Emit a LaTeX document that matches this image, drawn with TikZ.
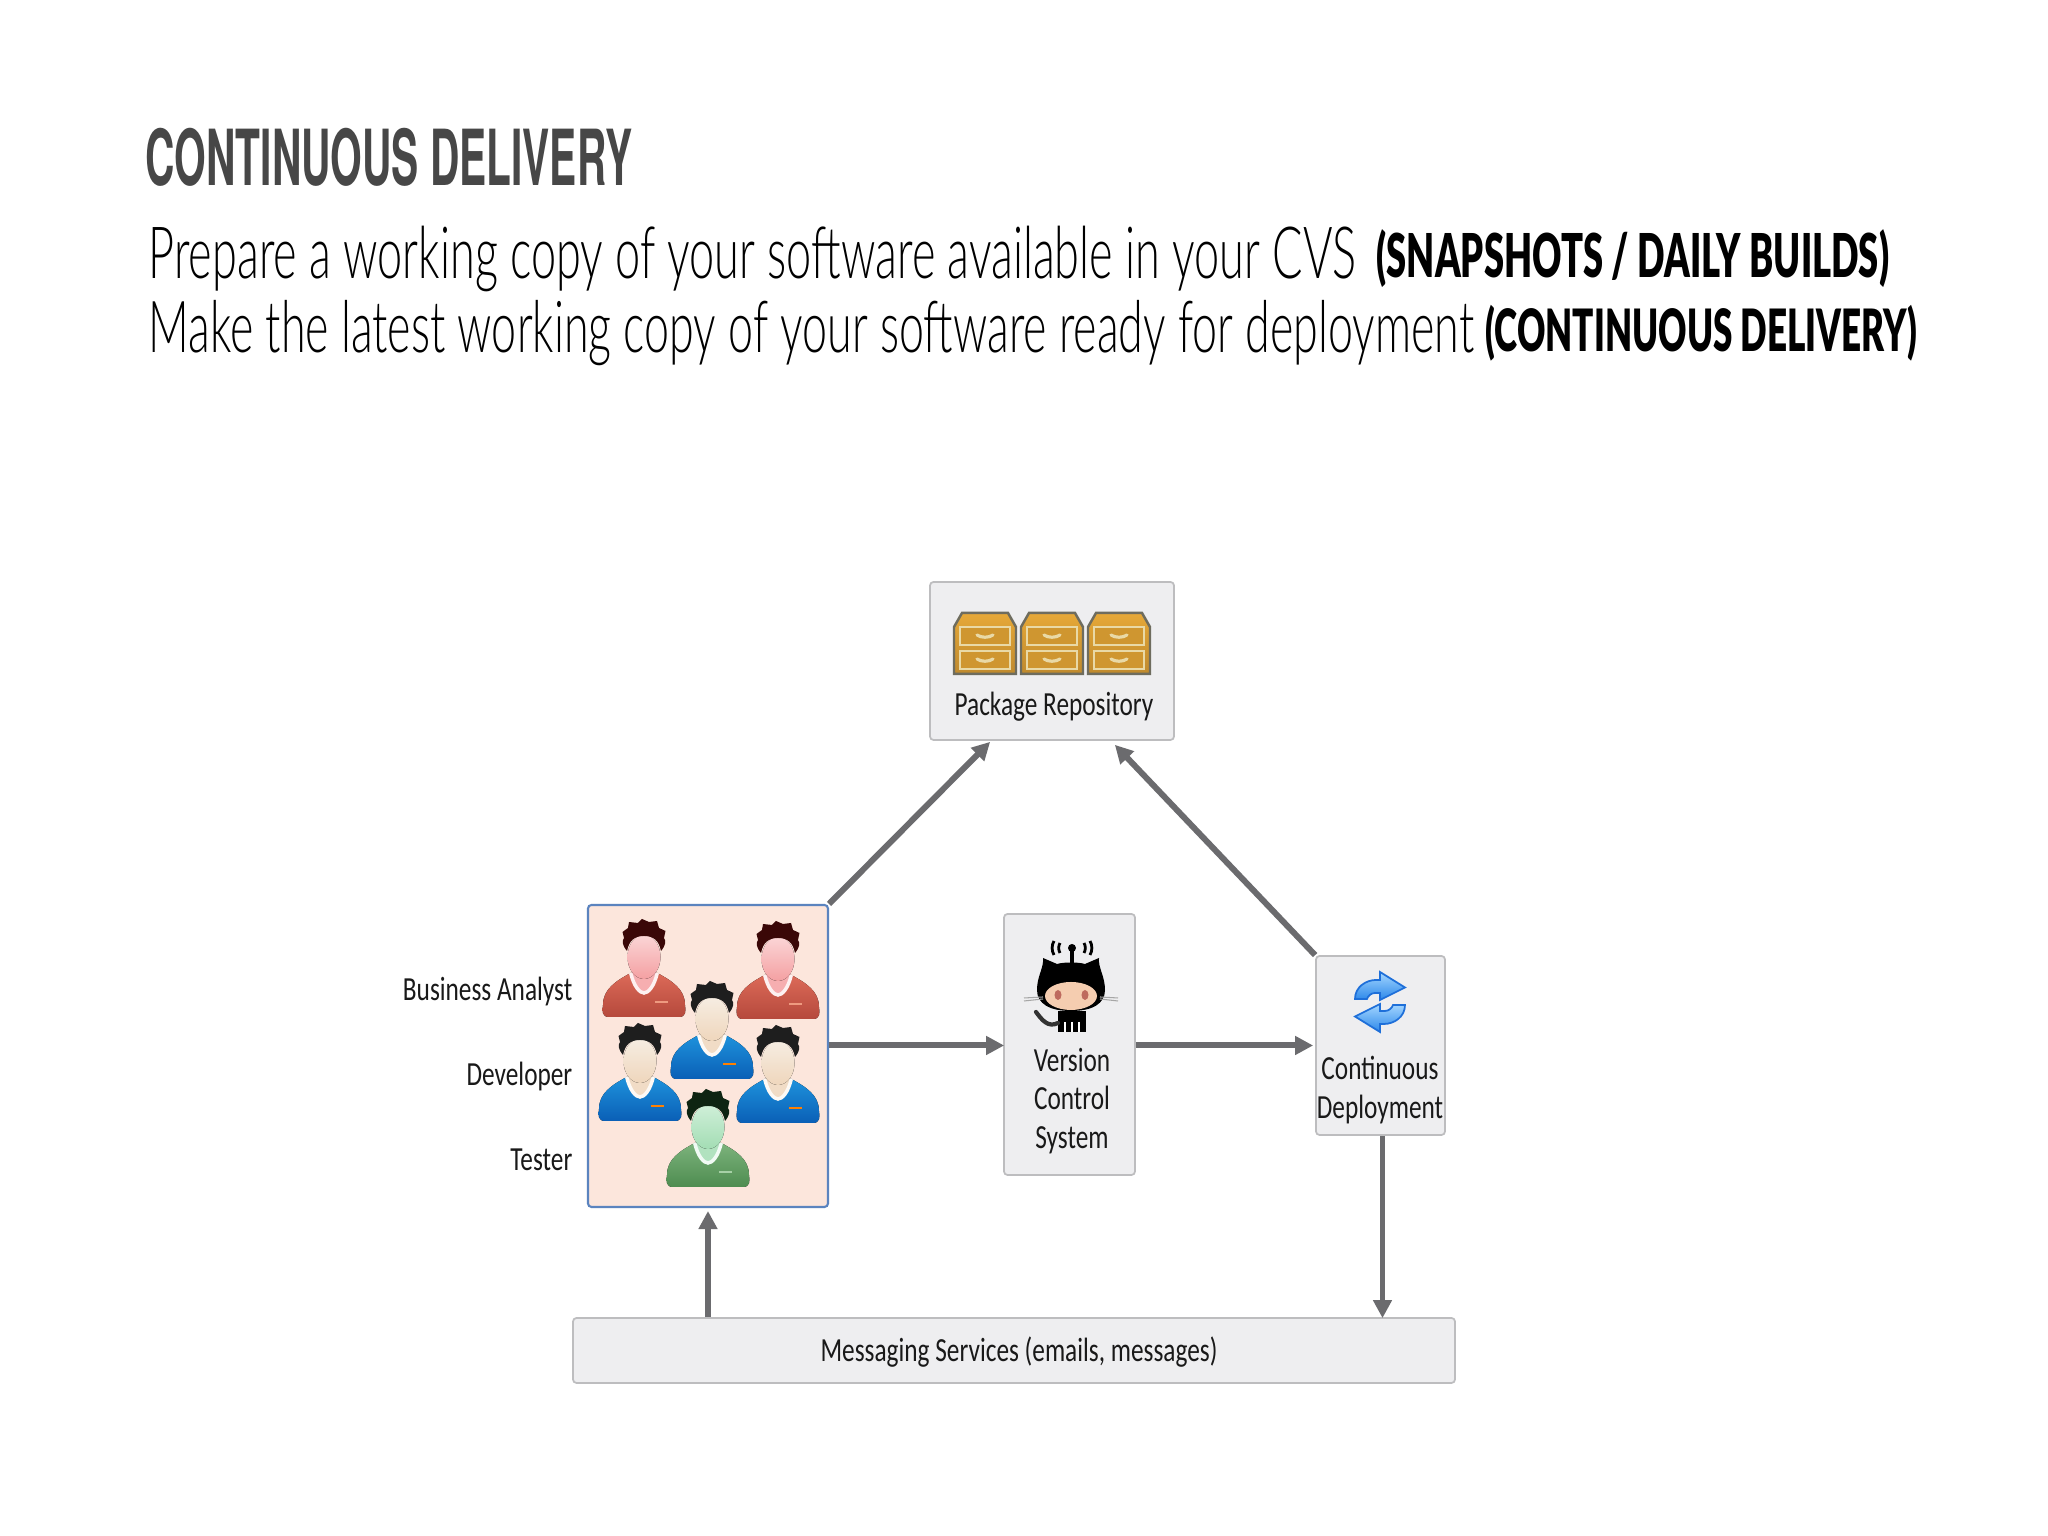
\documentclass[tikz,border=0pt]{standalone}
\usepackage{fontspec}
\usepackage{tikz}
\usetikzlibrary{calc,arrows.meta}
\newfontfamily\headfont[FakeStretch=0.526]{TeX Gyre Heros Bold}
\newfontfamily\thinfont[FakeStretch=0.625]{Lato Light}
\newfontfamily\boldfont[FakeStretch=0.6]{Lato Black}
\newfontfamily\labelfont[FakeStretch=0.75]{Carlito}
\definecolor{linkgray}{HTML}{6B6B6E}
\definecolor{boxfill}{HTML}{EEEEF0}
\definecolor{boxline}{HTML}{BDBDBF}
\definecolor{teamline}{HTML}{5B84BF}
\definecolor{teamfill}{HTML}{FCE6DC}
\definecolor{redtop}{HTML}{DC6A58}
\definecolor{redbottom}{HTML}{B5493C}
\definecolor{redface}{HTML}{F4A0A2}
\definecolor{redlight}{HTML}{FBD5D6}
\definecolor{redhair}{HTML}{3A0707}
\definecolor{redbadge}{HTML}{EE9A80}
\definecolor{bluetop}{HTML}{1E92DC}
\definecolor{bluebottom}{HTML}{0A5FB6}
\definecolor{blueface}{HTML}{EFD6BC}
\definecolor{bluelight}{HTML}{F6EDE2}
\definecolor{bluehair}{HTML}{1E1E1E}
\definecolor{greentop}{HTML}{7CB37C}
\definecolor{greenbottom}{HTML}{4E8C50}
\definecolor{greenface}{HTML}{A3DDB4}
\definecolor{greenlight}{HTML}{CFEFD8}
\definecolor{greenhair}{HTML}{0E2412}
\definecolor{greenbadge}{HTML}{A6D0A6}
\definecolor{cabtop}{HTML}{E6A838}
\definecolor{cabbottom}{HTML}{BF8A2E}
\definecolor{cabdrawer}{HTML}{CF9630}
\definecolor{cabedge}{HTML}{E9D9A6}
\definecolor{cabline}{HTML}{6E6C5E}
\definecolor{synctop}{HTML}{A4D6FF}
\definecolor{syncbottom}{HTML}{2C88EA}
\definecolor{syncline}{HTML}{1E6FD9}
\definecolor{catface}{HTML}{F5CDB0}
\definecolor{cateye}{HTML}{BE6A5E}
\tikzset{
  boxnode/.style={draw=boxline,fill=boxfill,line width=0.5pt,rounded corners=1pt,inner sep=0pt},
  labelnode/.style={inner sep=0pt,align=center,font=\labelfont\fontsize{9.6}{10.9}\selectfont,text=black!90},
  link/.style={draw=linkgray,line width=1.7pt,-{Triangle[length=0.18cm,width=0.18cm]}},
  pics/person/.style n args={6}{code={
    \fill[top color=#1,bottom color=#2] (-.35,0) .. controls (-.42,0) and (-.42,.06) .. (-.41,.12) .. controls (-.41,.28) and (-.28,.36) .. (-.133,.44) -- (.133,.44) .. controls (.28,.36) and (.41,.28) .. (.41,.12) .. controls (.42,.06) and (.42,0) .. (.35,0) -- cycle;
    \fill[#3!85!white] (-.11,.60) rectangle (.11,.34);
    \fill[#3!85!white] (-.133,.44) .. controls (-.10,.30) and (-.04,.24) .. (0,.24) .. controls (.04,.24) and (.10,.30) .. (.133,.44) -- cycle;
    \draw[white!85!#3,line width=1pt] (-.133,.44) .. controls (-.10,.30) and (-.04,.24) .. (0,.24) .. controls (.04,.24) and (.10,.30) .. (.133,.44);
    \fill[top color=#4,bottom color=#3] (0,.60) ellipse (.165 and .22);
    \fill[#5] (-.17,.66) .. controls (-.22,.72) and (-.22,.76) .. (-.20,.79) -- (-.215,.85) -- (-.16,.89) -- (-.15,.95) -- (-.06,.94) -- (-.02,.98) -- (.05,.95) -- (.13,.96) -- (.15,.89) -- (.215,.86) -- (.20,.79) .. controls (.22,.76) and (.22,.72) .. (.17,.66) .. controls (.15,.76) and (.10,.81) .. (0,.81) .. controls (-.10,.81) and (-.15,.76) .. (-.17,.66) -- cycle;
    \fill[#6] (.11,.135) rectangle (.24,.155);
  }},
  pics/cabinet/.style={code={
    \draw[draw=cabline,line width=0.7pt,top color=cabtop,bottom color=cabbottom] (-.31,0) -- (-.31,.47) -- (-.23,.61) -- (.23,.61) -- (.31,.47) -- (.31,0) -- cycle;
    \foreach \drawery in {.05,.29}{
      \draw[draw=cabedge,line width=0.4pt,fill=cabdrawer] (-.25,\drawery) rectangle (.25,\drawery+.18);
      \draw[draw=cabedge,line width=0.9pt,line cap=round] (-.08,\drawery+.10) .. controls (-.04,\drawery+.07) and (.04,\drawery+.07) .. (.08,\drawery+.10);
    }
  }},
  pics/synchalf/.style={code={
    \draw[draw=syncline,line width=0.5pt,top color=synctop,bottom color=syncbottom] (-.25,.03) .. controls (-.25,.15) and (-.14,.22) .. (-.04,.22) -- (0,.22) -- (0,.30) -- (.25,.145) -- (0,.02) -- (0,.09) -- (-.05,.09) .. controls (-.09,.09) and (-.12,.06) .. (-.13,.03) -- cycle;
  }}
}
\begin{document}
\begin{tikzpicture}
  \useasboundingbox (0,0) rectangle (20.48,15.36);
  \fill[white] (0,0) rectangle (20.48,15.36);

  \node[anchor=west,inner sep=0pt,text=black!72,font=\headfont\fontsize{22}{22}\selectfont] (title) at (1.45,13.79) {CONTINUOUS DELIVERY};
  \node[anchor=west,inner sep=0pt,font=\thinfont\fontsize{20.5}{21}\selectfont] (lineone) at (1.48,12.77) {Prepare a working copy of your software available in your CVS};
  \node[anchor=west,inner sep=0pt,font=\boldfont\fontsize{17.2}{17}\selectfont] (boldone) at (13.76,12.77) {(SNAPSHOTS / DAILY BUILDS)};
  \node[anchor=west,inner sep=0pt,font=\thinfont\fontsize{20.4}{21}\selectfont] (linetwo) at (1.48,12.03) {Make the latest working copy of your software ready for deployment};
  \node[anchor=west,inner sep=0pt,font=\boldfont\fontsize{16.6}{17}\selectfont] (boldtwo) at (14.85,12.03) {(CONTINUOUS DELIVERY)};

  \node[boxnode,minimum width=2.44cm,minimum height=1.58cm] (repo) at (10.52,8.75) {};
  \node[draw=teamline,fill=teamfill,line width=0.6pt,rounded corners=1pt,minimum width=2.40cm,minimum height=3.02cm] (team) at (7.08,4.80) {};
  \node[boxnode,minimum width=1.31cm,minimum height=2.61cm] (vcs) at (10.695,4.915) {};
  \node[boxnode,minimum width=1.29cm,minimum height=1.79cm] (deploy) at (13.805,4.905) {};
  \node[boxnode,minimum width=8.82cm,minimum height=0.65cm] (msg) at (10.14,1.855) {};

  \pic at (9.85,8.62) {cabinet};
  \pic at (10.52,8.62) {cabinet};
  \pic at (11.19,8.62) {cabinet};
  \node[labelnode] (repolabel) at (10.54,8.29) {Package Repository};

  \pic at (6.44,5.19) {person={redtop}{redbottom}{redface}{redlight}{redhair}{redbadge}};
  \pic at (7.78,5.17) {person={redtop}{redbottom}{redface}{redlight}{redhair}{redbadge}};
  \pic at (7.12,4.57) {person={bluetop}{bluebottom}{blueface}{bluelight}{bluehair}{orange}};
  \pic at (6.40,4.15) {person={bluetop}{bluebottom}{blueface}{bluelight}{bluehair}{orange}};
  \pic at (7.78,4.13) {person={bluetop}{bluebottom}{blueface}{bluelight}{bluehair}{orange}};
  \pic at (7.08,3.49) {person={greentop}{greenbottom}{greenface}{greenlight}{greenhair}{greenbadge}};

  \node[labelnode,anchor=east] (analyst) at (5.73,5.44) {Business Analyst};
  \node[labelnode,anchor=east] (developer) at (5.73,4.59) {Developer};
  \node[labelnode,anchor=east] (tester) at (5.73,3.76) {Tester};

  % octocat
  \draw[black,line width=1pt] (10.72,5.88) -- (10.72,5.70);
  \fill[black] (10.72,5.88) circle (.04);
  \draw[black,line width=.8pt] (10.60,5.93) arc (150:210:.10);
  \draw[black,line width=.8pt] (10.84,5.93) arc (30:-30:.10);
  \draw[black,line width=.8pt] (10.54,5.95) arc (150:210:.14);
  \draw[black,line width=.8pt] (10.90,5.95) arc (30:-30:.14);
  \fill[black] (10.43,5.78) .. controls (10.44,5.68) and (10.37,5.60) .. (10.37,5.46) .. controls (10.37,5.32) and (10.50,5.25) .. (10.71,5.25) .. controls (10.92,5.25) and (11.05,5.32) .. (11.05,5.46) .. controls (11.05,5.60) and (10.98,5.68) .. (10.99,5.78) -- (10.85,5.72) .. controls (10.78,5.74) and (10.64,5.74) .. (10.57,5.72) -- cycle;
  \fill[black] (10.58,5.25) rectangle (10.86,5.04);
  \fill[catface] (10.71,5.40) ellipse (.26 and .14);
  \fill[cateye] (10.58,5.41) ellipse (.035 and .05);
  \fill[cateye] (10.85,5.41) ellipse (.035 and .05);
  \foreach \legx in {10.65,10.72,10.79}{\draw[white,line width=.5pt] (\legx,5.14) -- (\legx,5.04);}
  \draw[black!80,line width=1.2pt,line cap=round] (10.58,5.13) .. controls (10.48,5.08) and (10.42,5.16) .. (10.36,5.24);
  \draw[black!35,line width=.3pt] (10.43,5.39) -- (10.24,5.38);
  \draw[black!35,line width=.3pt] (10.43,5.37) -- (10.24,5.35);
  \draw[black!35,line width=.3pt] (11.00,5.39) -- (11.18,5.38);
  \draw[black!35,line width=.3pt] (11.00,5.37) -- (11.18,5.35);
  \node[labelnode] (vcslabel) at (10.72,4.35) {Version\\Control\\System};

  \pic at (13.80,5.34) {synchalf};
  \pic[rotate=180] at (13.80,5.34) {synchalf};
  \node[labelnode] (deploylabel) at (13.80,4.46) {Continuous\\Deployment};

  \node[labelnode] (msglabel) at (10.19,1.84) {Messaging Services (emails, messages)};

  \draw[link] (team.north east) -- ($(repo.south west)+(0.61,-0.01)$);
  \draw[link] (deploy.north west) -- ($(repo.south east)+(-0.60,-0.04)$);
  \draw[link] ($(team.east |- vcs.west)+(0,-0.01)$) -- ($(vcs.west)+(0.01,-0.01)$);
  \draw[link] ($(vcs.east)+(0,-0.01)$) -- ($(vcs.east -| deploy.west)+(-0.02,-0.01)$);
  \draw[link] ($(deploy.south)+(0.02,0)$) -- ($(deploy.south |- msg.north)+(0.02,-0.01)$);
  \draw[link] (team.south |- msg.north) -- ($(team.south)+(0,-0.03)$);
\end{tikzpicture}
\end{document}
